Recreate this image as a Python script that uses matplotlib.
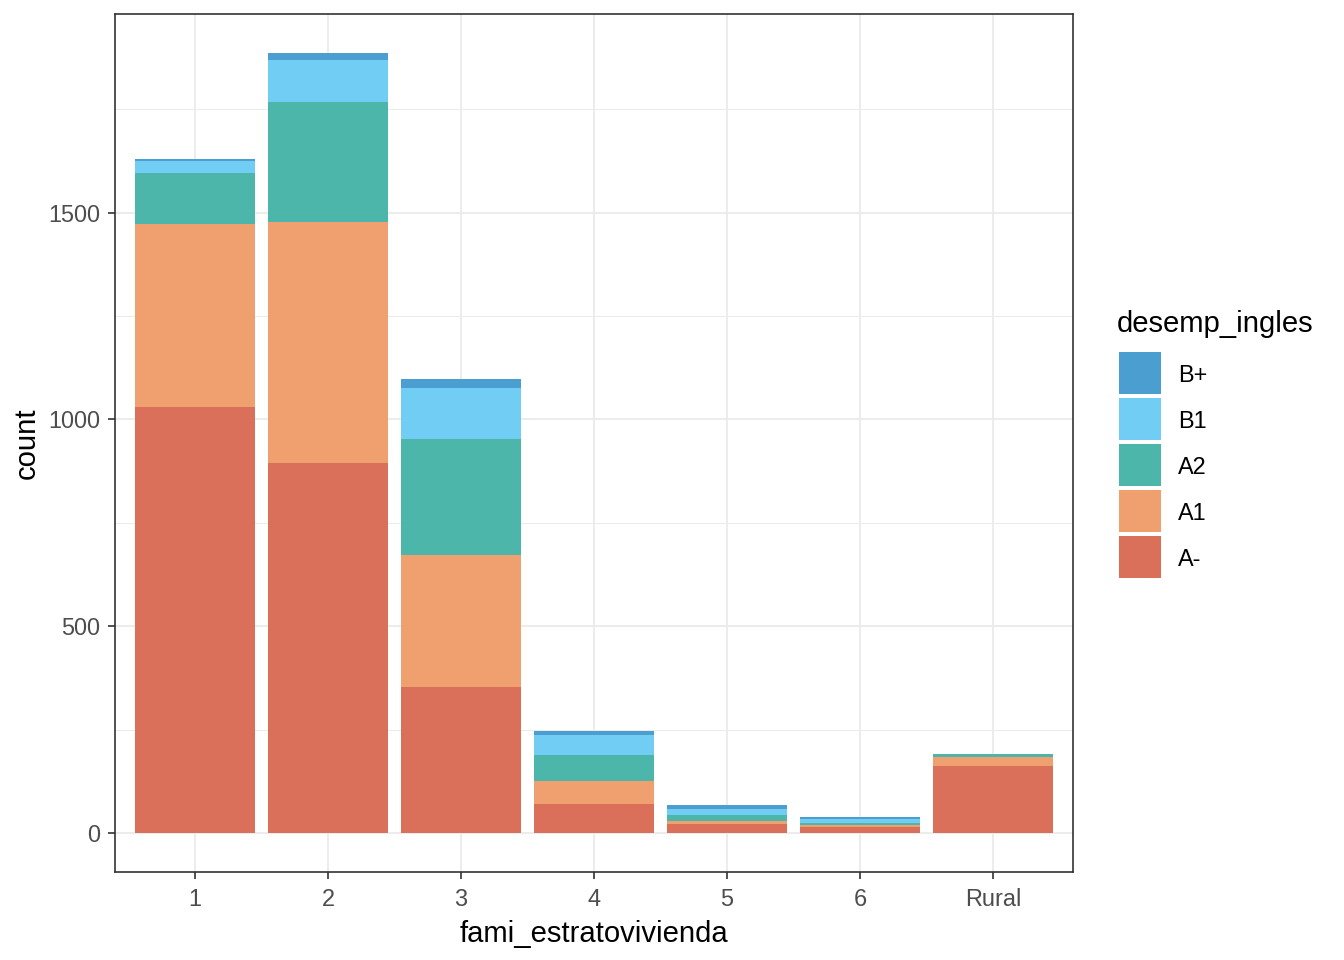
import numpy as np
import matplotlib
matplotlib.use("Agg")
from matplotlib import pyplot as plt
from matplotlib.patches import Rectangle
from matplotlib.ticker import MultipleLocator

plt.rcParams["font.family"] = ["Liberation Sans", "DejaVu Sans"]

categories = ["1", "2", "3", "4", "5", "6", "Rural"]
levels = ["A-", "A1", "A2", "B1", "B+"]  # bottom to top
counts = {
    "A-": [1029, 894, 353, 70, 22, 14, 162],
    "A1": [444, 584, 318, 56, 7, 5, 22],
    "A2": [124, 290, 281, 62, 14, 6, 7],
    "B1": [29, 102, 123, 49, 15, 8, 0],
    "B+": [4, 16, 22, 9, 10, 6, 0],
}
colors = {
    "A-": "#DB705A",
    "A1": "#F0A06F",
    "A2": "#4DB6AA",
    "B1": "#72CDF4",
    "B+": "#4A9FD0",
}

W, H = 1344, 960
fig = plt.figure(figsize=(W / 100, H / 100), dpi=100)
ax = fig.add_axes([115 / W, 1 - 872 / H, (1073 - 115) / W, (872 - 14) / H])

x = np.arange(1, len(categories) + 1)
bottom = np.zeros(len(categories))
for lev in levels:
    vals = np.array(counts[lev], dtype=float)
    ax.bar(x, vals, width=0.9, bottom=bottom, color=colors[lev], zorder=2, linewidth=0)
    bottom += vals

top = bottom.max()
ax.set_xlim(0.4, len(categories) + 0.6)
ax.set_ylim(-0.05 * top, top * 1.05)
ax.set_xticks(x)
ax.set_xticklabels(categories)
ax.yaxis.set_major_locator(MultipleLocator(500))
ax.yaxis.set_minor_locator(MultipleLocator(250))
ax.grid(which="major", color="#EBEBEB", linewidth=1.3, zorder=0)
ax.grid(which="minor", axis="y", color="#EBEBEB", linewidth=0.7, zorder=0)
ax.set_axisbelow(True)
for s in ax.spines.values():
    s.set_color("#333333")
    s.set_linewidth(1.2)
ax.tick_params(which="major", length=5.3, width=1.2, color="#333333",
               labelsize=16.9, labelcolor="#4D4D4D")
ax.tick_params(axis="x", pad=6)
ax.tick_params(axis="y", pad=5.5)
ax.tick_params(which="minor", length=0)

ax.set_xlabel("fami_estratovivienda", fontsize=21.1, color="black", labelpad=7)
ax.set_ylabel("count", fontsize=21.1, color="black", labelpad=5)

# legend, drawn by hand to match the ggplot key layout
def fx(px):
    return px / W

def fy(py):
    return 1 - py / H

fig.text(fx(1117), fy(332), "desemp_ingles", fontsize=21.1, ha="left", va="baseline")
for i, lev in enumerate(levels[::-1]):
    y0 = 352 + i * 46
    fig.add_artist(Rectangle((fx(1119), fy(y0 + 42)), 42 / W, 42 / H,
                             transform=fig.transFigure, facecolor=colors[lev], edgecolor="none"))
    fig.text(fx(1178), fy(y0 + 23), lev, fontsize=16.9, ha="left", va="center")

fig.savefig("out.png", dpi=100)
